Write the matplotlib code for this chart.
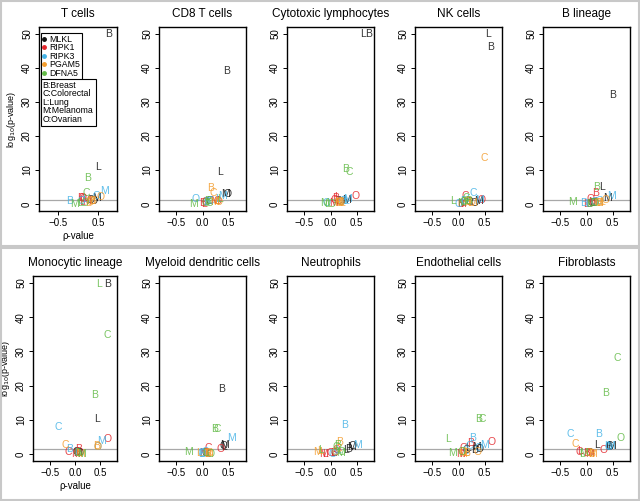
import matplotlib
matplotlib.use("Agg")
import matplotlib.pyplot as plt
from matplotlib.lines import Line2D
from matplotlib.patches import Rectangle
import numpy as np

plt.rcParams['font.family'] = ['Liberation Sans', 'DejaVu Sans']

# ---- data -------------------------------------------------------------
genes = ["MLKL", "RIPK1", "RIPK3", "PGAM5", "DFNA5"]
gene_colors = ["#111111", "#E3262B", "#45B3E6", "#F39C2C", "#62BA46"]
cancers = ["B", "C", "L", "M", "O"]
cancer_names = ["B:Breast", "C:Colorectal", "L:Lung", "M:Melanoma", "O:Ovarian"]
cell_types = ["T cells", "CD8 T cells", "Cytotoxic lymphocytes", "NK cells", "B lineage",
              "Monocytic lineage", "Myeloid dendritic cells", "Neutrophils",
              "Endothelial cells", "Fibroblasts"]

# rows = genes (MLKL, RIPK1, RIPK3, PGAM5, DFNA5), cols = cancers (B, C, L, M, O)
rho_tcells = [[0.75, 0.30, 0.50, 0.45, 0.38], [0.07, 0.14, 0.10, 0.22, 0.12],
              [-0.20, 0.08, 0.18, 0.65, 0.45], [0.36, 0.30, 0.26, 0.30, 0.55],
              [0.25, 0.21, 0.04, -0.08, 0.16]]
lp_tcells = [[50, 1.3, 11, 1.8, 1.0], [1.8, 1.4, 0.6, 1.0, 1.6], [1.0, 0.8, 1.5, 3.8, 2.2],
             [1.0, 0.5, 0.3, 0.8, 2.0], [7.5, 3.3, 0.2, 0.0, 0.4]]

rho_cd8 = [[0.46, 0.12, 0.33, 0.44, 0.48], [0.00, 0.05, 0.02, 0.22, 0.28],
           [0.08, 0.15, 0.30, 0.38, -0.14], [0.16, 0.20, 0.28, 0.23, 0.30],
           [0.10, 0.12, 0.33, -0.17, 0.05]]
lp_cd8 = [[39, 1.0, 9.5, 3.0, 2.8], [0.2, 0.5, 0.0, 0.8, 0.9], [0.6, 0.9, 1.5, 2.2, 1.4],
          [4.6, 3.3, 1.0, 0.7, 0.6], [1.0, 0.3, 1.4, 0.0, 0.2]]

rho_cyto = [[0.72, 0.15, 0.63, 0.30, 0.20], [0.09, 0.08, 0.12, 0.06, 0.48],
            [0.25, 0.20, 0.30, 0.33, -0.08], [0.13, 0.18, 0.22, 0.16, 0.20],
            [0.28, 0.36, -0.07, -0.12, 0.02]]
lp_cyto = [[50, 0.8, 50, 1.2, 0.5], [1.8, 1.2, 2.0, 0.3, 2.2], [1.0, 0.6, 0.8, 1.4, 0.3],
           [0.4, 0.5, 0.3, 0.6, 0.2], [10.2, 9.5, 0.1, 0.2, 0.1]]

rho_nk = [[0.61, 0.20, 0.56, 0.38, 0.30], [0.04, 0.12, 0.08, 0.06, 0.44],
          [0.10, 0.28, 0.20, 0.40, 0.00], [0.15, 0.49, 0.22, 0.26, 0.18],
          [0.20, 0.14, -0.10, 0.05, 0.10]]
lp_nk = [[46.3, 0.6, 50, 1.0, 0.4], [0.1, 2.2, 0.3, 0.0, 1.2], [0.8, 3.1, 1.5, 1.3, 0.1],
         [0.6, 13.4, 0.3, 0.4, 0.8], [0.9, 1.6, 1.0, 0.2, 0.5]]

rho_blin = [[0.50, 0.12, 0.30, 0.40, 0.10], [0.17, 0.05, 0.00, 0.12, 0.08],
            [-0.05, 0.15, 0.02, 0.47, 0.25], [0.25, 0.20, 0.30, 0.22, 0.36],
            [0.19, 0.10, 0.05, -0.26, 0.15]]
lp_blin = [[32.2, 0.3, 4.9, 1.8, 0.2], [3.1, 0.0, 0.1, 0.5, 1.5], [0.2, 0.5, 0.0, 2.3, 1.0],
           [0.4, 0.3, 0.6, 0.2, 1.2], [5.1, 0.4, 0.1, 0.6, 0.2]]

rho_mono = [[0.64, 0.02, 0.43, 0.05, 0.10], [0.08, -0.13, 0.02, 0.00, 0.64],
            [-0.10, -0.34, 0.04, 0.53, 0.45], [0.42, -0.19, 0.06, 0.10, 0.44],
            [0.38, 0.64, 0.48, 0.12, 0.06]]
lp_mono = [[49.7, 0.5, 10.3, 0.2, 0.4], [1.3, 0.7, 0.3, 0.0, 4.4], [1.5, 7.8, 0.2, 3.9, 2.0],
           [2.2, 2.5, 0.4, 0.0, 2.0], [17.2, 34.8, 49.7, 0.0, 0.3]]

rho_myel = [[0.36, 0.05, 0.42, 0.43, 0.40], [0.05, 0.11, 0.08, 0.02, 0.35],
            [0.00, 0.06, -0.03, 0.55, -0.02], [0.10, 0.13, -0.06, 0.12, 0.08],
            [0.24, 0.29, 0.04, -0.27, 0.15]]
lp_myel = [[18.9, 0.4, 2.0, 2.6, 2.4], [0.3, 1.7, 0.0, 0.2, 1.5], [0.0, 0.6, 0.1, 4.6, 0.2],
           [0.0, 0.3, 0.4, 0.0, 0.2], [7.4, 7.4, 0.2, 0.7, 0.1]]

rho_neut = [[0.35, 0.08, 0.30, 0.40, 0.43], [0.05, 0.00, -0.10, -0.14, 0.12],
            [0.27, 0.10, 0.15, 0.51, 0.03], [0.18, 0.15, -0.20, -0.25, 0.10],
            [0.14, 0.11, -0.18, 0.20, 0.22]]
lp_neut = [[1.5, 0.3, 1.0, 2.0, 2.3], [0.2, 0.4, 0.1, 0.0, 1.0], [8.6, 0.5, 1.2, 2.7, 0.0],
           [3.4, 1.5, 0.8, 0.5, 0.6], [2.5, 2.0, 1.0, 0.3, 0.7]]

rho_endo = [[0.30, 0.15, 0.18, 0.35, 0.41], [0.23, 0.10, 0.06, 0.04, 0.64],
            [0.26, 0.20, 0.12, 0.49, 0.38], [0.16, 0.10, 0.14, 0.08, 0.36],
            [0.39, 0.46, -0.21, -0.12, 0.05]]
lp_endo = [[1.2, 1.0, 1.7, 1.9, 1.5], [3.1, 1.6, 0.6, 0.0, 3.4], [4.6, 2.2, 0.8, 2.5, 1.8],
           [0.3, 0.6, 0.2, 0.1, 0.7], [10.3, 10.3, 4.4, 0.3, 0.5]]

rho_fibro = [[0.42, 0.44, 0.21, 0.47, 0.05], [0.00, -0.14, -0.12, 0.05, 0.33],
             [0.23, -0.32, 0.40, 0.45, 0.42], [0.10, -0.22, 0.02, 0.12, 0.06],
             [0.37, 0.58, -0.08, -0.05, 0.65]]
lp_fibro = [[2.1, 2.2, 2.5, 2.2, 0.2], [0.3, 0.7, 0.9, 0.0, 1.1], [5.9, 5.9, 2.2, 2.2, 2.0],
            [0.0, 2.9, 0.2, 0.1, 0.4], [17.8, 28.1, 0.0, 0.2, 4.6]]

rho_all = [rho_tcells, rho_cd8, rho_cyto, rho_nk, rho_blin,
           rho_mono, rho_myel, rho_neut, rho_endo, rho_fibro]
lp_all = [lp_tcells, lp_cd8, lp_cyto, lp_nk, lp_blin,
          lp_mono, lp_myel, lp_neut, lp_endo, lp_fibro]

sig_line = -np.log10(0.05)

# ---- layout (pixel boxes) ----------------------------------------------
W, H = 640, 501
fig = plt.figure(figsize=(6.4, 5.01), dpi=100)

def px_box(l, t, r, b):
    return [l / W, 1 - b / H, (r - l) / W, (b - t) / H]

# light grey frames round the two rows
for (t, b) in [(1, 246), (248, 500)]:
    fig.add_artist(Rectangle((1 / W, 1 - b / H), 638 / W, (b - t) / H,
                             transform=fig.transFigure, fill=False,
                             edgecolor="#c8c8c8", lw=1.5))

row_tb = [(27, 211), (276, 461)]

for k, name in enumerate(cell_types):
    row, col = divmod(k, 5)
    t, b = row_tb[row]
    if col == 0:
        l, r = (39, 117) if row == 0 else (33, 117)
    else:
        l, r = 128 * col + 31, 128 * col + 118
    ax = fig.add_axes(px_box(l, t, r, b))

    if k == 0:
        ax.set_xlim(-0.97, 0.97)
        ax.set_xticks([-0.5, 0.5])
    else:
        ax.set_xlim(-0.832, 0.832)
        ax.set_xticks([-0.5, 0.0, 0.5])
    ax.set_ylim(-2.08, 52.08)
    ax.set_yticks([0, 10, 20, 30, 40, 50])
    ax.tick_params(direction="out", length=3, width=0.7, labelsize=7, pad=2)
    plt.setp(ax.get_yticklabels(), rotation=90, va="center")
    for s in ax.spines.values():
        s.set_linewidth(1.0)

    ax.axhline(sig_line, color="#a8a8a8", lw=0.9, zorder=1)

    rho = rho_all[k]
    lp = lp_all[k]
    for g in range(5):
        for c in range(5):
            ax.text(rho[g][c], lp[g][c], cancers[c], color=gene_colors[g],
                    alpha=0.85, fontsize=7.5, ha="center", va="center", zorder=3)

    ax.set_title(name, fontsize=8.5, pad=7)
    if col == 0:
        ax.set_xlabel("ρ-value", fontsize=7, labelpad=2)
        ax.set_ylabel("log$_{10}$(p-value)", fontsize=6.5, labelpad=3)

    if k == 0:
        handles = [Line2D([], [], marker="o", ls="", ms=2.5, color=gc) for gc in gene_colors]
        leg1 = ax.legend(handles, genes, loc="upper left", bbox_to_anchor=(0.02, 0.97),
                         fontsize=6.3, handlelength=0.4, handletextpad=0.3,
                         labelspacing=-0.05, borderpad=0.25, borderaxespad=0,
                         fancybox=False, edgecolor="black", framealpha=1)
        leg1.get_frame().set_linewidth(0.8)
        ax.add_artist(leg1)
        blank = [Line2D([], [], ls="", marker="") for _ in cancer_names]
        leg2 = ax.legend(blank, cancer_names, loc="upper left", bbox_to_anchor=(0.02, 0.72),
                         fontsize=6.3, handlelength=0, handletextpad=0,
                         labelspacing=-0.05, borderpad=0.25, borderaxespad=0,
                         fancybox=False, edgecolor="black", framealpha=1)
        leg2.get_frame().set_linewidth(0.8)

fig.savefig("out.png", dpi=100)
